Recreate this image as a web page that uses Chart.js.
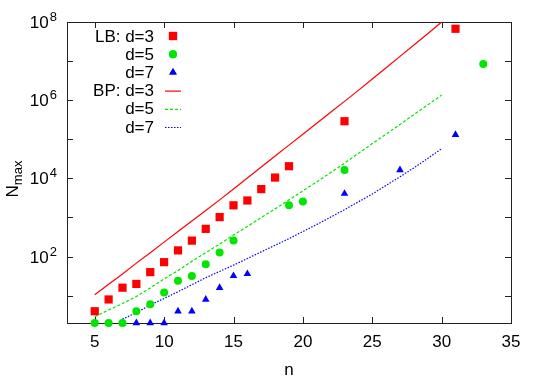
<!DOCTYPE html>
<html>
<head>
<meta charset="utf-8">
<script src="https://cdn.jsdelivr.net/npm/chart.js"></script>
<style>
  html, body { margin: 0; padding: 0; background: #fff; }
  #wrap { width: 545px; height: 382px; }
</style>
</head>
<body>
<div id="wrap"><canvas id="chart" width="545" height="382"></canvas></div>
<script>
// LB: lower bounds (markers)
const nLB3 = [5, 6, 7, 8, 9, 10, 11, 12, 13, 14, 15, 16, 17, 18, 19, 23, 31];
const lb3 = [4, 8, 16, 20, 40, 72, 144, 256, 512, 1024, 2048, 2720, 5312, 10496, 20480, 290000, 67108864];
const nLB5 = [5, 6, 7, 8, 9, 10, 11, 12, 13, 14, 15, 19, 20, 23, 33];
const lb5 = [2, 2, 2, 4, 6, 12, 24, 32, 64, 128, 256, 2048, 2560, 16384, 8388608];
const nLB7 = [7, 8, 9, 10, 11, 12, 13, 14, 15, 16, 23, 27, 31];
const lb7 = [2, 2, 2, 2, 4, 4, 8, 16, 32, 36, 4096, 16384, 131072];

// BP: curves
const nBP3 = [5, 6, 7, 8, 9, 10, 11, 12, 13, 14, 15, 16, 17, 18, 19, 20, 21, 22, 23, 24, 25, 26, 27, 28, 29, 30];
const bp3 = [10.5, 19.5, 36, 68, 126, 234, 437, 813, 1510, 2820, 5370, 10200, 19500, 37200, 70800, 135000,
  257000, 490000, 933000, 1780000, 3470000, 6760000, 13200000, 25700000, 50100000, 100000000];
const nBP5 = [5, 6, 7, 8, 9, 10, 11, 12, 13, 14, 15, 16, 17, 18, 19, 20, 21, 22, 23, 24, 25, 26, 27, 28, 29, 30];
const bp5 = [2.9, 4.3, 6.3, 9.5, 15.8, 26.9, 43.7, 75.9, 126, 209, 355, 589, 1000, 1660, 2820, 4790,
  8130, 14100, 24500, 43600, 77600, 135000, 240000, 427000, 759000, 1350000];
const nBP7 = [7, 8, 9, 10, 11, 12, 13, 14, 15, 16, 17, 18, 19, 20, 21, 22, 23, 24, 25, 26, 27, 28, 29, 30];
const bp7 = [2.5, 3.7, 5.8, 8.5, 12.6, 19.1, 28.8, 41.7, 60.3, 89.1, 132, 195, 288, 437, 661, 1020,
  1580, 2510, 3980, 6610, 11000, 18600, 32400, 57500];

// axes
const xTicks = [5, 10, 15, 20, 25, 30, 35];
const yTicks = [10, 100, 1e3, 1e4, 1e5, 1e6, 1e7, 1e8];
const yTickExp = ['', '2', '', '4', '', '6', '', '8'];

const RED = '#ff0000';
const GREEN = '#00e600';
const BLUE = '#0000ff';
const FONT = '"Liberation Sans", Arial, sans-serif';

function pts(xs, ys) {
  return xs.map((x, i) => ({ x: x, y: ys[i] }));
}

function markers(label, xs, ys, color, style, r) {
  return {
    label: label,
    data: pts(xs, ys),
    showLine: false,
    pointStyle: style,
    pointRadius: r,
    pointBackgroundColor: color,
    pointBorderColor: color,
    pointBorderWidth: 0,
    backgroundColor: color,
    borderColor: color,
    clip: false,
  };
}

function curve(label, xs, ys, color, dash) {
  return {
    label: label,
    data: pts(xs, ys),
    showLine: true,
    pointRadius: 0,
    borderColor: color,
    borderWidth: 1.2,
    borderDash: dash,
    tension: 0,
    clip: false,
  };
}

const frame = {
  id: 'frame',
  beforeDatasetsDraw(chart) {
    const { ctx, chartArea: a, scales } = chart;
    ctx.save();
    ctx.strokeStyle = '#222';
    ctx.lineWidth = 1;
    ctx.beginPath();
    xTicks.forEach((v) => {
      const px = Math.round(scales.x.getPixelForValue(v)) + 0.5;
      ctx.moveTo(px, a.bottom); ctx.lineTo(px, a.bottom - 6);
      ctx.moveTo(px, a.top); ctx.lineTo(px, a.top + 6);
    });
    yTicks.forEach((v) => {
      const py = Math.round(scales.y.getPixelForValue(v)) + 0.5;
      ctx.moveTo(a.left, py); ctx.lineTo(a.left + 6, py);
      ctx.moveTo(a.right, py); ctx.lineTo(a.right - 6, py);
    });
    ctx.stroke();
    ctx.strokeRect(Math.round(a.left) + 0.5, Math.round(a.top) + 0.5,
      Math.round(a.right - a.left), Math.round(a.bottom - a.top));
    ctx.restore();
  },
  afterDraw(chart) {
    const { ctx, chartArea: a, scales } = chart;
    ctx.save();
    ctx.fillStyle = '#000';

    // y tick labels 10^k
    yTicks.forEach((v, i) => {
      const e = yTickExp[i];
      if (!e) return;
      const py = scales.y.getPixelForValue(v);
      ctx.font = '13px ' + FONT;
      const we = ctx.measureText(e).width;
      ctx.textAlign = 'right';
      ctx.textBaseline = 'alphabetic';
      ctx.fillText(e, 57, py - 1);
      ctx.font = '17px ' + FONT;
      ctx.fillText('10', 57 - we - 1, py + 6);
    });

    // axis titles
    ctx.font = '17px ' + FONT;
    ctx.textAlign = 'center';
    ctx.textBaseline = 'alphabetic';
    ctx.fillText('n', (a.left + a.right) / 2, 375);

    ctx.save();
    ctx.translate(18, 179);
    ctx.rotate(-Math.PI / 2);
    ctx.textAlign = 'left';
    ctx.font = '17px ' + FONT;
    const wN = ctx.measureText('N').width;
    ctx.font = '13px ' + FONT;
    const wS = ctx.measureText('max').width;
    const sx = -(wN + wS) / 2;
    ctx.font = '17px ' + FONT;
    ctx.fillText('N', sx, 0);
    ctx.font = '13px ' + FONT;
    ctx.fillText('max', sx + wN, 4);
    ctx.restore();

    // legend: text right-aligned, sample to the right
    const textRight = 154;
    const sampleX = 173;
    ctx.font = '17px ' + FONT;
    ctx.textAlign = 'right';
    ctx.textBaseline = 'middle';
    chart.data.datasets.forEach((ds, i) => {
      const y = 36 + i * 18.2;
      ctx.fillStyle = '#000';
      ctx.fillText(ds.label, textRight, y + 1);
      if (ds.showLine) {
        ctx.save();
        ctx.strokeStyle = ds.borderColor;
        ctx.lineWidth = ds.borderWidth;
        ctx.setLineDash(ds.borderDash || []);
        ctx.beginPath();
        ctx.moveTo(sampleX - 8, y + 0.5);
        ctx.lineTo(sampleX + 8, y + 0.5);
        ctx.stroke();
        ctx.restore();
      } else {
        ctx.fillStyle = ds.pointBackgroundColor;
        Chart.helpers.drawPoint(ctx, {
          pointStyle: ds.pointStyle,
          radius: ds.pointRadius,
          borderWidth: 0,
          rotation: 0,
        }, sampleX, y);
        ctx.fill();
      }
    });
    ctx.restore();
  },
};

const chart = new Chart(document.getElementById('chart'), {
  type: 'scatter',
  data: {
    datasets: [
      markers('LB: d=3', nLB3, lb3, RED, 'rect', 5.8),
      markers('d=5', nLB5, lb5, GREEN, 'circle', 4),
      markers('d=7', nLB7, lb7, BLUE, 'triangle', 4.4),
      curve('BP: d=3', nBP3, bp3, RED, []),
      curve('d=5', nBP5, bp5, GREEN, [3, 2]),
      curve('d=7', nBP7, bp7, BLUE, [1.5, 1.5]),
    ],
  },
  options: {
    responsive: false,
    animation: false,
    devicePixelRatio: 1,
    layout: { padding: { top: 22, right: 34, left: 0, bottom: 0 } },
    plugins: {
      legend: { display: false },
      tooltip: { enabled: false },
    },
    scales: {
      x: {
        type: 'linear',
        min: 3,
        max: 35,
        afterBuildTicks: (s) => { s.ticks = xTicks.map((v) => ({ value: v })); },
        afterFit: (s) => { s.height = 59; },
        grid: { display: false, drawTicks: false },
        border: { display: false },
        ticks: { color: '#000', padding: 9, maxRotation: 0, font: { family: FONT, size: 17 } },
      },
      y: {
        type: 'logarithmic',
        min: 2,
        max: 1e8,
        afterFit: (s) => { s.width = 67; },
        grid: { display: false, drawTicks: false },
        border: { display: false },
        ticks: { display: false },
      },
    },
  },
  plugins: [frame],
});
</script>
</body>
</html>
